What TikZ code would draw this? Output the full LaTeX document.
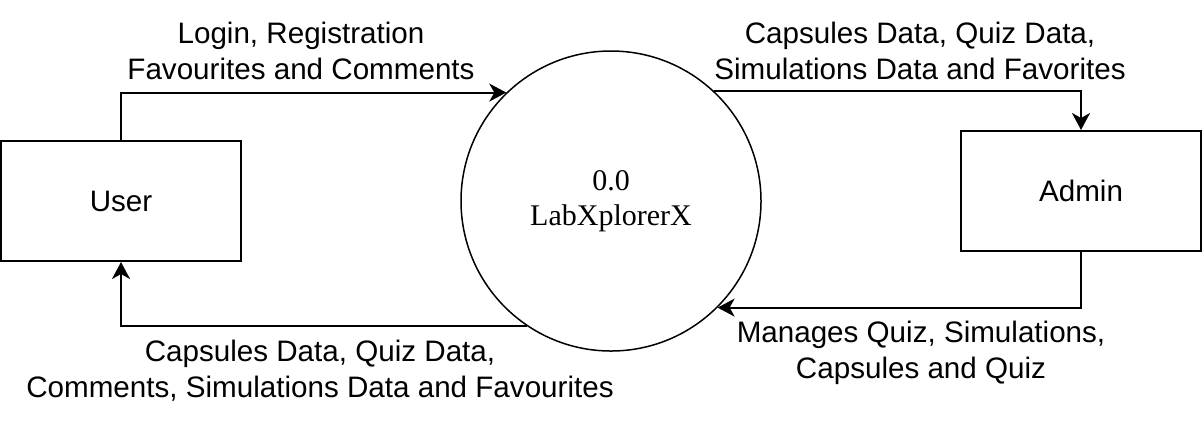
\documentclass[tikz,border=0pt]{standalone}
\usepackage{fontspec}
\setmainfont{Liberation Serif}
\setsansfont{Liberation Sans}
\usetikzlibrary{arrows.meta}

\begin{document}
\begin{tikzpicture}[
    x=0.5pt, y=-0.5pt,
    entity/.style={
        draw, line width=1pt,
        minimum width=120pt, minimum height=60pt,
        font=\sffamily\fontsize{14.8}{18}\selectfont,
    },
    process/.style={
        draw, circle, line width=0.75pt,
        minimum size=150pt, inner sep=0pt, align=center,
        font=\fontsize{15}{17.5}\selectfont,
    },
    flow/.style={
        draw, line width=1pt,
        -{Stealth[length=8.5pt, width=9pt, inset=2.5pt]},
    },
    flowlabel/.style={
        align=center, inner sep=0pt,
        font=\sffamily\fontsize{14.8}{18}\selectfont,
    },
    % every node/.style={draw=red},
    ]
    \useasboundingbox (0,0) rectangle (1202,420);
    \node [entity, at={(121,201)}] (user) {User};
    \node [process, at={(611,201)}] (proc) {0.0\\LabXplorerX};
    \node [entity, at={(1081,191)}] (admin) {Admin};
    \draw [flow] (user.north) |- (proc.134);
    \draw [flow] (proc.47) -| (admin.north);
    \draw [flow] (admin.south) |- (proc.-45);
    \draw [flow] (proc.236) -| (user.south);
    \node [flowlabel, at={(301,51)}] (login)
        {Login, Registration\\Favourites and Comments};
    \node [flowlabel, at={(920,51)}] (toadmin)
        {Capsules Data, Quiz Data,\\Simulations Data and Favorites};
    \node [flowlabel, at={(921,353)}] (manages)
        {Manages Quiz, Simulations,\\Capsules and Quiz};
    \node [flowlabel, at={(320,371)}] (touser)
        {Capsules Data, Quiz Data,\\Comments, Simulations Data and Favourites};
\end{tikzpicture}
\end{document}
